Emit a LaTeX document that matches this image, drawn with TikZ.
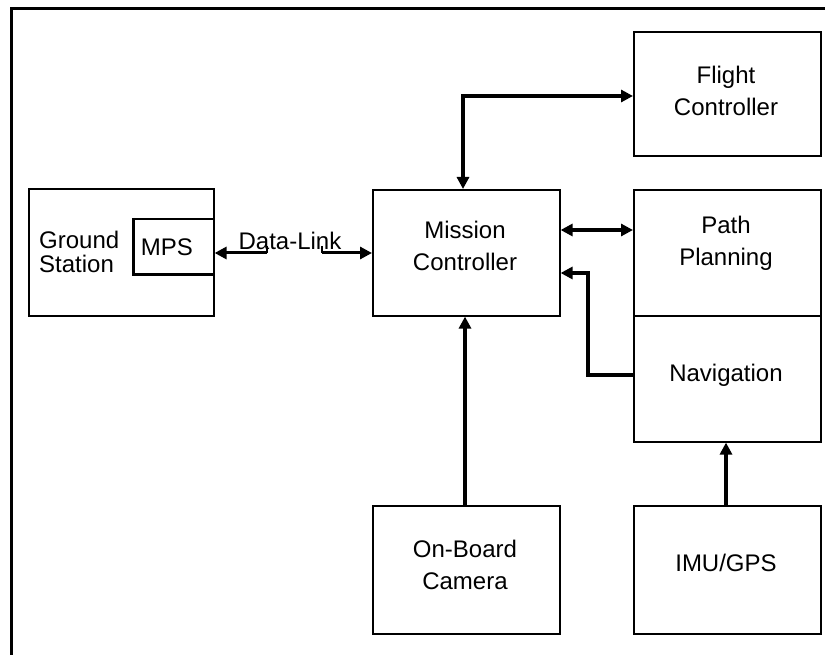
\documentclass[tikz,border=0pt]{standalone}
\usepackage{fontspec}
\setmainfont{Liberation Sans}
\usetikzlibrary{arrows.meta}
\begin{document}
\begin{tikzpicture}[x=1pt,y=-1pt,
  box/.style={draw, line width=1.6pt, anchor=north west, inner sep=0pt, minimum width=187pt},
  lbl/.style={align=center, inner sep=0pt, font=\fontsize{24}{32}\selectfont},
  tipstyle/.style={},
  conn/.style={line width=3.5pt, -{Triangle[length=12pt,width=12pt]}},
  biconn/.style={line width=3.5pt, {Triangle[length=12pt,width=12pt]}-{Triangle[length=12pt,width=12pt]}}
]
\useasboundingbox (0,0) rectangle (825,655);
% outer frame (only top and left edges visible)
\draw[line width=3.5pt] (11.5,660) -- (11.5,8.5) -- (830,8.5);

% boxes
\node[box, minimum height=124pt] (fc) at (633,31) {};
\node[box, minimum height=126pt] (mc) at (372,189) {};
\node[box, minimum height=126pt] (pp) at (633,189) {};
\node[box, minimum height=126pt] (nav) at (633,315) {};
\node[box, minimum height=128pt] (cam) at (372,505) {};
\node[box, minimum height=128pt] (imu) at (633,505) {};
\node[box, minimum width=185pt, minimum height=127pt] (gs) at (28,188) {};
\node[box, minimum width=80pt, minimum height=55pt] (mps) at (133,218) {};
\draw[line width=3pt] (mps.north west) -- (mps.south west) -- (mps.south east);

% texts
\node[lbl] (fct) at (726,91) {Flight\\Controller};
\node[lbl] (mct) at (465,246) {Mission\\Controller};
\node[lbl] (ppt) at (726,243) {Path\\Planning};
\node[lbl] (navt) at (726,375) {Navigation};
\node[lbl] (camt) at (465,565) {On-Board\\Camera};
\node[lbl] (imut) at (726,563) {IMU/GPS};
\node[lbl, align=left, anchor=west, font=\fontsize{24}{24}\selectfont] (gst) at (39,252) {Ground\\Station};
\node[lbl] (mpst) at (167,247) {MPS};
\node[lbl] (dlt) at (290,241) {Data-Link};

% connectors
\draw[biconn] (mc.north -| 463,0) |- (fc.west |- 0,96);
\draw[biconn] (mc.east |- 0,230) -- (pp.west |- 0,230);
\draw[conn] (nav.west |- 0,375) -- (588,375) |- (mc.east |- 0,273);
\draw[conn] (cam.north -| 465,0) -- (mc.south -| 465,0);
\draw[conn] (imu.north -| 726,0) -- (nav.south -| 726,0);

% data link
\coordinate (dla) at (267,246);
\coordinate (dlb) at (322,246);
\draw[line width=2pt] (dla) -- (267,253);
\draw[line width=2pt] (dlb) -- (322,253);
\draw[conn, line width=3pt] (267,253) -- (mps.east |- 0,253);
\draw[conn, line width=3pt] (322,253) -- (mc.west |- 0,253);
\end{tikzpicture}
\end{document}
